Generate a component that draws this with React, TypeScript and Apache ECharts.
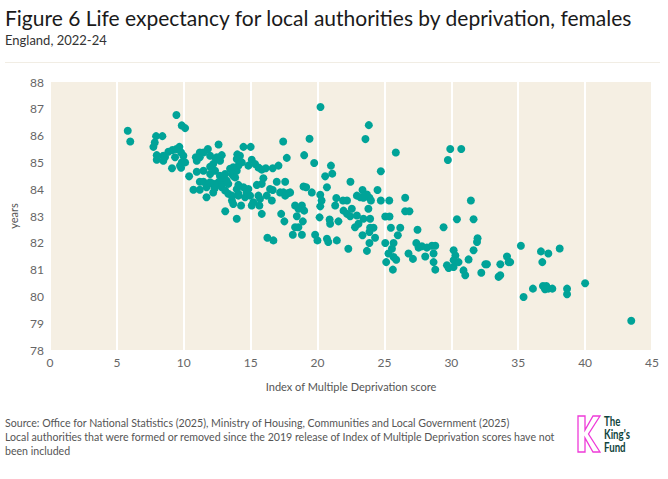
import React, { useEffect, useRef } from "react";
import * as echarts from "echarts";

const titleText = "Figure 6 Life expectancy for local authorities by deprivation, females";
const subtitleText = "England, 2022-24";
const sourceLines = [
  "Source: Office for National Statistics (2025), Ministry of Housing, Communities and Local Government (2025)",
  "Local authorities that were formed or removed since the 2019 release of Index of Multiple Deprivation scores have not",
  "been included",
];
const logoLines = ["The", "King's", "Fund"];
const xAxisName = "Index of Multiple Deprivation score";
const yAxisName = "years";

// Index of Multiple Deprivation score (x) for each local authority
const imdScore = [
  9.45, 5.81, 6.0, 9.85, 10.1, 7.93, 8.4, 7.73, 7.83, 7.98, 7.98, 8.6, 8.85, 9.15, 9.45, 9.67, 9.8, 9.97, 9.85, 9.8,
  9.72, 9.12, 10.4, 10.97, 11.47, 10.97, 10.9, 11.2, 11.8, 12.6, 12.84, 12.47, 12.2, 11.97, 11.2, 11.47, 10.72, 11.2, 11.7, 11.7,
  12.2, 12.3, 12.7, 12.96, 13.1, 13.1, 13.6, 13.7, 13.96, 13.96, 14.08, 13.7, 13.96, 14.08, 14.0, 8.47, 9.35, 8.47, 10.1, 11.2,
  11.97, 12.4, 11.97, 12.34, 11.84, 12.22, 12.59, 12.34, 11.47, 12.71, 13.46, 13.7, 13.09, 12.84, 13.21, 13.33, 11.97, 14.83, 12.84, 13.09,
  13.33, 13.59, 14.08, 14.58, 15.58, 16.45, 20.22, 17.43, 19.4, 14.46, 15.0, 14.2, 13.96, 14.34, 15.08, 15.33, 15.58, 15.83, 14.83, 16.13,
  16.65, 17.08, 17.7, 19.0, 19.75, 21.0, 21.1, 20.57, 20.7, 22.46, 13.6, 13.84, 15.95, 15.83, 15.46, 14.08, 14.46, 16.95, 17.58, 16.65,
  17.2, 17.45, 17.82, 17.95, 17.58, 18.95, 19.15, 19.57, 20.2, 20.3, 20.2, 21.4, 21.9, 22.2, 21.32, 22.94, 14.7, 14.96, 15.2, 15.7,
  16.2, 14.28, 15.08, 15.65, 16.58, 18.32, 18.57, 18.83, 19.0, 18.45, 18.9, 17.28, 17.52, 15.83, 18.32, 18.57, 18.15, 18.83, 16.25, 16.7,
  20.15, 20.9, 20.94, 21.56, 19.82, 19.99, 20.7, 20.8, 21.44, 22.3, 21.94, 22.2, 22.44, 22.94, 23.06, 22.8, 23.83, 23.58, 25.85, 29.92,
  30.74, 29.74, 24.73, 23.36, 23.69, 23.88, 23.99, 24.48, 23.19, 23.43, 24.73, 25.36, 26.55, 26.55, 26.87, 22.56, 23.8, 23.43, 23.93, 25.06,
  25.38, 23.93, 24.18, 23.88, 23.36, 24.3, 25.48, 26.18, 26.0, 27.47, 29.42, 30.42, 31.66, 31.46, 23.88, 23.69, 25.06, 25.68, 25.56, 25.3,
  25.13, 25.68, 25.88, 25.63, 26.8, 27.13, 27.38, 27.55, 27.8, 28.17, 28.55, 28.8, 28.05, 28.67, 28.67, 28.8, 30.17, 30.3, 30.17, 30.54,
  29.67, 29.8, 30.17, 30.91, 31.04, 31.29, 31.66, 31.92, 31.96, 32.24, 32.54, 32.66, 33.66, 33.53, 33.66, 34.16, 34.28, 35.2, 34.4, 36.7,
  37.25, 38.1, 36.8, 35.4, 36.1, 36.85, 37.1, 37.0, 37.25, 37.55, 38.65, 38.65, 40.0, 43.45,
];

// Female life expectancy at birth, years (y), same order as imdScore
const lifeExpectancy = [
  86.77, 86.18, 85.78, 86.38, 86.28, 85.98, 85.98, 85.58, 85.74, 85.27, 85.1, 85.2, 85.4, 85.46, 85.5, 85.58, 85.37, 85.25, 85.0, 84.8,
  84.88, 84.78, 84.48, 84.65, 84.69, 85.06, 85.19, 85.37, 85.5, 85.67, 85.27, 85.19, 84.94, 84.84, 84.28, 84.28, 83.98, 83.98, 84.07, 83.7,
  83.88, 84.03, 84.5, 84.38, 84.26, 83.18, 83.58, 83.45, 82.9, 84.0, 83.83, 84.5, 84.69, 84.88, 85.3, 85.25, 85.19, 85.06, 85.0, 85.19,
  85.25, 85.13, 84.57, 84.69, 84.2, 84.2, 84.26, 84.13, 85.37, 85.06, 84.76, 84.82, 84.57, 84.32, 84.32, 84.2, 84.26, 84.01, 84.07, 83.95,
  83.83, 83.76, 83.76, 83.7, 83.76, 84.01, 87.07, 85.78, 85.88, 85.58, 85.58, 85.25, 85.13, 85.0, 85.1, 84.94, 84.81, 84.73, 84.88, 84.78,
  84.78, 84.88, 85.17, 85.27, 84.98, 84.88, 84.58, 84.48, 84.07, 84.28, 84.57, 84.44, 84.41, 84.2, 84.16, 84.16, 84.07, 84.28, 84.28, 83.97,
  83.88, 83.88, 83.86, 83.88, 83.76, 84.1, 84.07, 83.88, 83.79, 83.58, 83.36, 83.67, 83.58, 83.58, 83.39, 83.76, 83.88, 83.76, 83.51, 83.64,
  83.76, 83.39, 83.39, 83.39, 83.58, 83.39, 83.27, 83.39, 83.2, 82.99, 82.8, 83.08, 82.8, 83.08, 82.58, 82.58, 82.3, 82.3, 82.19, 82.09,
  82.95, 82.87, 82.71, 82.8, 82.3, 82.09, 82.15, 82.03, 82.09, 81.78, 83.2, 83.08, 82.99, 83.02, 82.71, 82.58, 86.39, 85.87, 85.37, 85.5,
  85.5, 85.09, 84.67, 83.97, 83.8, 83.68, 83.58, 83.97, 83.7, 83.68, 83.58, 83.58, 83.68, 83.18, 83.18, 83.27, 83.27, 82.9, 82.9, 82.98,
  82.98, 82.56, 82.56, 82.4, 82.28, 82.19, 82.56, 82.56, 82.28, 82.49, 82.58, 82.88, 82.88, 83.58, 81.99, 81.7, 81.99, 81.99, 81.78, 81.6,
  81.28, 81.47, 81.37, 81.0, 81.6, 81.4, 81.99, 81.82, 81.87, 81.82, 81.89, 81.89, 81.49, 81.6, 81.28, 81.0, 81.72, 81.53, 81.35, 81.28,
  81.16, 81.06, 81.1, 80.97, 80.79, 81.38, 81.72, 82.03, 82.17, 80.88, 81.2, 81.2, 81.2, 80.73, 80.79, 81.49, 81.28, 81.89, 81.28, 81.68,
  81.6, 81.79, 81.28, 79.98, 80.29, 80.39, 80.39, 80.27, 80.29, 80.29, 80.29, 80.08, 80.49, 79.09,
];

const FONT = "Lato, 'Noto Sans', sans-serif";

export default function App() {
  const ref = useRef<HTMLDivElement>(null);

  useEffect(() => {
    if (!ref.current) return;
    const chart = echarts.init(ref.current, null, { renderer: "svg" });
    const points = imdScore.map((x, i) => [x, lifeExpectancy[i]]);

    // King's Fund "K" outline
    const kOutline = [
      [578, 416], [585, 416], [585, 430], [593, 416], [600, 416], [588.5, 434],
      [600, 452], [593, 452], [585, 438], [585, 452], [578, 452],
    ];

    chart.setOption({
      animation: false,
      textStyle: { fontFamily: FONT },
      grid: {
        left: 50,
        right: 16,
        top: 82,
        bottom: 129,
        show: true,
        backgroundColor: "#f5efe3",
        borderWidth: 0,
      },
      xAxis: {
        type: "value",
        min: 0,
        max: 45,
        interval: 5,
        name: xAxisName,
        nameLocation: "middle",
        nameGap: 31,
        nameTextStyle: { color: "#555", fontSize: 11, fontFamily: FONT },
        axisLine: { show: false },
        axisTick: { show: false },
        axisLabel: { color: "#666", fontSize: 12, margin: 6, fontFamily: FONT },
        splitLine: { show: true, lineStyle: { color: "#ffffff", width: 2 } },
      },
      yAxis: {
        type: "value",
        min: 78,
        max: 88,
        interval: 1,
        name: yAxisName,
        nameLocation: "middle",
        nameGap: 28,
        nameTextStyle: { color: "#555", fontSize: 11, fontFamily: FONT },
        axisLine: { show: false },
        axisTick: { show: false },
        axisLabel: { color: "#666", fontSize: 12, margin: 6, fontFamily: FONT },
        splitLine: { show: false },
      },
      series: [
        {
          type: "scatter",
          data: points,
          symbolSize: 8,
          itemStyle: { color: "#00a398", opacity: 1 },
        },
      ],
      graphic: [
        {
          type: "text",
          left: 5,
          top: 7,
          style: { text: titleText, fill: "#1a1a1a", fontSize: 21, fontFamily: FONT },
        },
        {
          type: "text",
          left: 5,
          top: 33,
          style: { text: subtitleText, fill: "#333", fontSize: 13, fontFamily: FONT },
        },
        {
          type: "line",
          shape: { x1: 5, y1: 62.5, x2: 660, y2: 62.5 },
          style: { stroke: "#f1ede4", lineWidth: 1 },
        },
        ...sourceLines.map((t, i) => ({
          type: "text",
          left: 5,
          top: 417 + i * 14,
          style: { text: t, fill: "#555", fontSize: 10.6, fontFamily: FONT },
        })),
        {
          type: "polygon",
          shape: { points: kOutline },
          style: { fill: "none", stroke: "#ee3ad8", lineWidth: 1.3 },
        },
        ...logoLines.map((t, i) => ({
          type: "text",
          x: 604,
          y: 414 + i * 13,
          scaleX: 0.72,
          style: {
            text: t,
            fill: "#10453d",
            fontSize: 13.5,
            fontWeight: "bold",
            lineHeight: 13,
            fontFamily: FONT,
            verticalAlign: "top",
          },
        })),
      ],
    });

    return () => chart.dispose();
  }, []);

  return (
    <div
      ref={ref}
      style={{ position: "fixed", left: 0, top: 0, width: 668, height: 479, background: "#ffffff" }}
    />
  );
}
